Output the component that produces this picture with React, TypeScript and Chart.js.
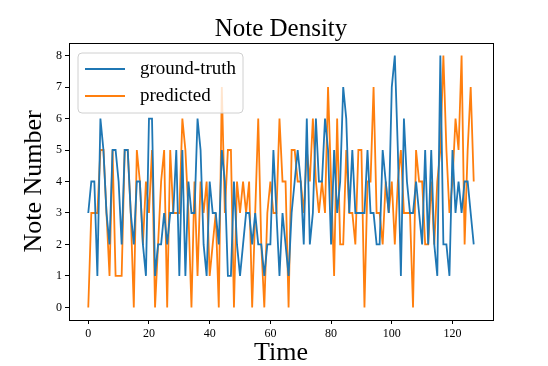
import React, { useEffect, useRef } from "react";
import { Chart, registerables } from "chart.js";

Chart.register(...registerables);

const GROUND_TRUTH = [
  3, 4, 4, 1, 6, 5, 3, 2, 5, 5,
  4, 2, 5, 5, 3, 2, 4, 4, 2, 1,
  6, 6, 1, 2, 2, 3, 2, 3, 3, 5,
  1, 5, 1, 4, 3, 3, 6, 5, 2, 1,
  4, 3, 3, 2, 5, 4, 1, 1, 4, 2,
  1, 2, 3, 3, 2, 3, 2, 2, 1, 2,
  2, 5, 3, 1, 3, 2, 1, 3, 4, 5,
  4, 2, 6, 2, 3, 6, 4, 4, 6, 5,
  2, 5, 3, 4, 7, 6, 3, 5, 3, 3,
  3, 3, 5, 3, 3, 2, 2, 5, 4, 3,
  7, 8, 5, 1, 6, 4, 3, 3, 4, 3,
  2, 5, 2, 5, 2, 1, 8, 2, 2, 1,
  5, 3, 4, 3, 4, 4, 3, 2,
];

const PREDICTED = [
  0, 3, 3, 3, 5, 5, 3, 1, 5, 1,
  1, 1, 5, 5, 3, 0, 5, 4, 2, 4,
  3, 5, 0, 2, 4, 5, 0, 5, 3, 3,
  3, 6, 5, 3, 0, 4, 1, 4, 3, 4,
  1, 2, 3, 0, 7, 3, 5, 5, 0, 4,
  3, 4, 3, 4, 0, 3, 6, 2, 0, 3,
  4, 3, 3, 6, 4, 4, 0, 5, 5, 4,
  4, 3, 5, 4, 6, 4, 3, 4, 3, 7,
  4, 1, 6, 2, 2, 5, 3, 3, 2, 5,
  5, 0, 4, 4, 7, 3, 3, 2, 4, 3,
  4, 2, 4, 5, 3, 3, 3, 0, 5, 4,
  4, 2, 2, 4, 2, 4, 5, 8, 5, 3,
  4, 6, 5, 8, 2, 5, 7, 4,
];

const TIME_STEPS = GROUND_TRUTH.map((_, i) => i);
const X_TICKS = [0, 20, 40, 60, 80, 100, 120];
const Y_TICKS = [0, 1, 2, 3, 4, 5, 6, 7, 8];
const SERIES_LABELS = ["ground-truth", "predicted"];
const SERIES_COLORS = ["#1f77b4", "#ff7f0e"];
const TITLE = "Note Density";
const X_TITLE = "Time";
const Y_TITLE = "Note Number";

const SERIF = "'Times New Roman', 'Liberation Serif', 'DejaVu Serif', serif";

const framePlugin = {
  id: "frame",
  afterDatasetsDraw(chart: any) {
    const { ctx, chartArea } = chart;
    ctx.save();
    ctx.strokeStyle = "#000";
    ctx.lineWidth = 1;
    ctx.strokeRect(
      Math.round(chartArea.left) + 0.5,
      Math.round(chartArea.top) + 0.5,
      Math.round(chartArea.right - chartArea.left),
      Math.round(chartArea.bottom - chartArea.top)
    );
    ctx.restore();
  },
};

const axesTitlePlugin = {
  id: "axesTitle",
  afterDraw(chart: any) {
    const { ctx, chartArea } = chart;
    ctx.save();
    ctx.fillStyle = "#000";
    ctx.font = `25px ${SERIF}`;
    ctx.textAlign = "center";
    ctx.textBaseline = "alphabetic";
    ctx.fillText(TITLE, (chartArea.left + chartArea.right) / 2, chartArea.top - 7);
    ctx.restore();
  },
};

const insideLegendPlugin = {
  id: "insideLegend",
  afterDraw(chart: any) {
    const { ctx, chartArea } = chart;
    const x0 = chartArea.left + 9;
    const y0 = chartArea.top + 10;
    const w = 165;
    const h = 60;
    const r = 4;
    ctx.save();
    ctx.beginPath();
    ctx.moveTo(x0 + r, y0);
    ctx.lineTo(x0 + w - r, y0);
    ctx.quadraticCurveTo(x0 + w, y0, x0 + w, y0 + r);
    ctx.lineTo(x0 + w, y0 + h - r);
    ctx.quadraticCurveTo(x0 + w, y0 + h, x0 + w - r, y0 + h);
    ctx.lineTo(x0 + r, y0 + h);
    ctx.quadraticCurveTo(x0, y0 + h, x0, y0 + h - r);
    ctx.lineTo(x0, y0 + r);
    ctx.quadraticCurveTo(x0, y0, x0 + r, y0);
    ctx.closePath();
    ctx.fillStyle = "rgba(255,255,255,0.8)";
    ctx.fill();
    ctx.strokeStyle = "#d0d0d0";
    ctx.lineWidth = 1;
    ctx.stroke();
    chart.data.datasets.forEach((ds: any, i: number) => {
      const yy = y0 + 16 + i * 27;
      ctx.beginPath();
      ctx.strokeStyle = ds.borderColor;
      ctx.lineWidth = 2;
      ctx.moveTo(x0 + 7, yy);
      ctx.lineTo(x0 + 47, yy);
      ctx.stroke();
      ctx.fillStyle = "#000";
      ctx.font = `19px ${SERIF}`;
      ctx.textBaseline = "middle";
      ctx.textAlign = "left";
      ctx.fillText(ds.label, x0 + 62, yy);
    });
    ctx.restore();
  },
};

export default function App() {
  const canvasRef = useRef<HTMLCanvasElement | null>(null);

  useEffect(() => {
    document.body.style.margin = "0";
    const canvas = canvasRef.current;
    if (!canvas) return;
    const chart = new Chart(canvas, {
      type: "line",
      data: {
        datasets: [
          {
            label: SERIES_LABELS[0],
            data: TIME_STEPS.map((t, i) => ({ x: t, y: GROUND_TRUTH[i] })),
            borderColor: SERIES_COLORS[0],
            backgroundColor: SERIES_COLORS[0],
            borderWidth: 1.8,
            pointRadius: 0,
            tension: 0,
            fill: false,
          },
          {
            label: SERIES_LABELS[1],
            data: TIME_STEPS.map((t, i) => ({ x: t, y: PREDICTED[i] })),
            borderColor: SERIES_COLORS[1],
            backgroundColor: SERIES_COLORS[1],
            borderWidth: 1.8,
            pointRadius: 0,
            tension: 0,
            fill: false,
          },
        ],
      },
      options: {
        responsive: false,
        animation: false,
        devicePixelRatio: 1,
        layout: { padding: { left: 0, right: 55, top: 43, bottom: 0 } },
        plugins: {
          legend: { display: false },
          tooltip: { enabled: false },
          title: { display: false },
        },
        scales: {
          x: {
            type: "linear",
            min: -6.35,
            max: 133.35,
            afterBuildTicks: (scale: any) => {
              scale.ticks = X_TICKS.map((v) => ({ value: v }));
            },
            afterFit: (scale: any) => {
              scale.height = 46;
            },
            border: { display: false },
            grid: {
              display: true,
              drawOnChartArea: false,
              drawTicks: true,
              tickLength: 4,
              color: "#000",
            },
            ticks: {
              color: "#000",
              font: { family: SERIF, size: 12 },
              padding: 3,
              maxRotation: 0,
              autoSkip: false,
            },
            title: {
              display: true,
              text: X_TITLE,
              color: "#000",
              font: { family: SERIF, size: 26, lineHeight: 1 },
              padding: { top: 0, bottom: 0 },
            },
          },
          y: {
            type: "linear",
            min: -0.4,
            max: 8.4,
            afterBuildTicks: (scale: any) => {
              scale.ticks = Y_TICKS.map((v) => ({ value: v }));
            },
            afterFit: (scale: any) => {
              scale.width = 69;
            },
            border: { display: false },
            grid: {
              display: true,
              drawOnChartArea: false,
              drawTicks: true,
              tickLength: 4,
              color: "#000",
            },
            ticks: {
              color: "#000",
              font: { family: SERIF, size: 12 },
              padding: 3,
              autoSkip: false,
            },
            title: {
              display: true,
              text: Y_TITLE,
              color: "#000",
              font: { family: SERIF, size: 26, lineHeight: 1 },
              padding: { top: 21, bottom: 0 },
            },
          },
        },
      },
      plugins: [framePlugin, axesTitlePlugin, insideLegendPlugin],
    } as any);
    return () => chart.destroy();
  }, []);

  return (
    <div style={{ width: 548, height: 366 }}>
      <canvas ref={canvasRef} width={548} height={366} style={{ display: "block" }} />
    </div>
  );
}
